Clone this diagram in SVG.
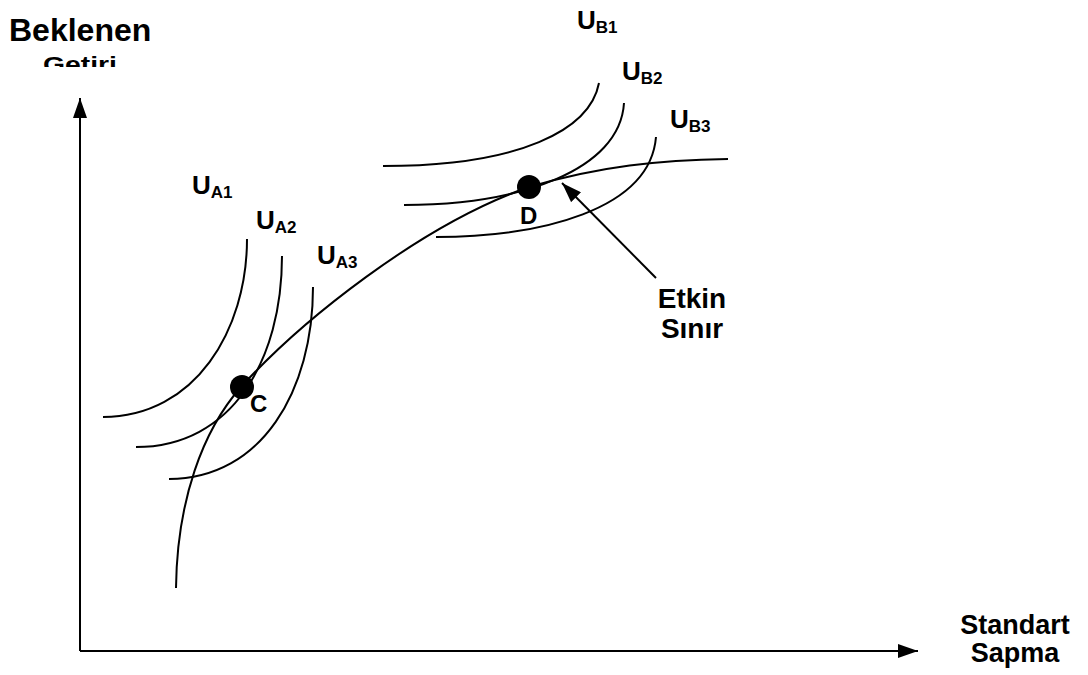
<svg xmlns="http://www.w3.org/2000/svg" width="1088" height="675" viewBox="0 0 1088 675">
<style>
.t{font-family:"Liberation Sans",Arial,sans-serif;font-weight:bold;fill:#000}
.c{fill:none;stroke:#000;stroke-width:2}
.ax{fill:none;stroke:#000;stroke-width:2}
</style>
<defs>
<marker id="ah" markerWidth="20" markerHeight="14" refX="20" refY="7" orient="auto" markerUnits="userSpaceOnUse">
<path d="M0,0 L20,7 L0,14 Z" fill="#000"/>
</marker>
<clipPath id="clipG"><rect x="0" y="0" width="300" height="67"/></clipPath>
</defs>
<rect width="1088" height="675" fill="#fff"/>
<g id="axes">
<path class="ax" d="M80,651 L80,98" marker-end="url(#ah)"/>
<path class="ax" d="M80,651 L918,651" marker-end="url(#ah)"/>
</g>
<g id="axis-labels">
<text class="t" x="9" y="41" font-size="32">Beklenen</text>
<text class="t" x="43" y="72" font-size="22" textLength="74" lengthAdjust="spacingAndGlyphs" clip-path="url(#clipG)">Getiri</text>
<text class="t" x="1015" y="634" font-size="27" text-anchor="middle">Standart</text>
<text class="t" x="1015" y="662" font-size="27" text-anchor="middle">Sapma</text>
</g>
<g id="frontier">
<path class="c" d="M176,588 C177,500 203,430 241,387 C300,322 420,225 529,187 C600,166 660,160 728,159"/>
</g>
<g id="curves-A">
<path class="c" d="M247,239 C247,330 195,417 103,417"/>
<path class="c" d="M282,256 C282,360 232,447 136,447"/>
<path class="c" d="M313,287 C313,390 262,479 169,479"/>
</g>
<g id="curves-B">
<path class="c" d="M599,83 C590,130 520,166 383,166"/>
<path class="c" d="M624,103 C620,170 520,205 404,205"/>
<path class="c" d="M656,137 C650,210 540,237 436,237"/>
</g>
<g id="point-C">
<circle cx="242" cy="387" r="12" fill="#000"/>
<text class="t" x="250" y="412" font-size="24">C</text>
</g>
<g id="point-D">
<circle cx="529" cy="187" r="12" fill="#000"/>
<text class="t" x="520" y="224" font-size="24">D</text>
</g>
<g id="labels-U">
<text class="t" x="577" y="29" font-size="26">U<tspan font-size="17" dy="4">B1</tspan></text>
<text class="t" x="622" y="80" font-size="26">U<tspan font-size="17" dy="4">B2</tspan></text>
<text class="t" x="670" y="128" font-size="26">U<tspan font-size="17" dy="4">B3</tspan></text>
<text class="t" x="192" y="194" font-size="26">U<tspan font-size="17" dy="4">A1</tspan></text>
<text class="t" x="256" y="229" font-size="26">U<tspan font-size="17" dy="4">A2</tspan></text>
<text class="t" x="317" y="264" font-size="26">U<tspan font-size="17" dy="4">A3</tspan></text>
</g>
<g id="connectors">
<path class="ax" d="M656,278 L562,183" marker-end="url(#ah)"/>
</g>
<g id="label-etkin">
<text class="t" x="692" y="308" font-size="28" text-anchor="middle">Etkin</text>
<text class="t" x="692" y="338" font-size="28" text-anchor="middle">Sınır</text>
</g>
</svg>
